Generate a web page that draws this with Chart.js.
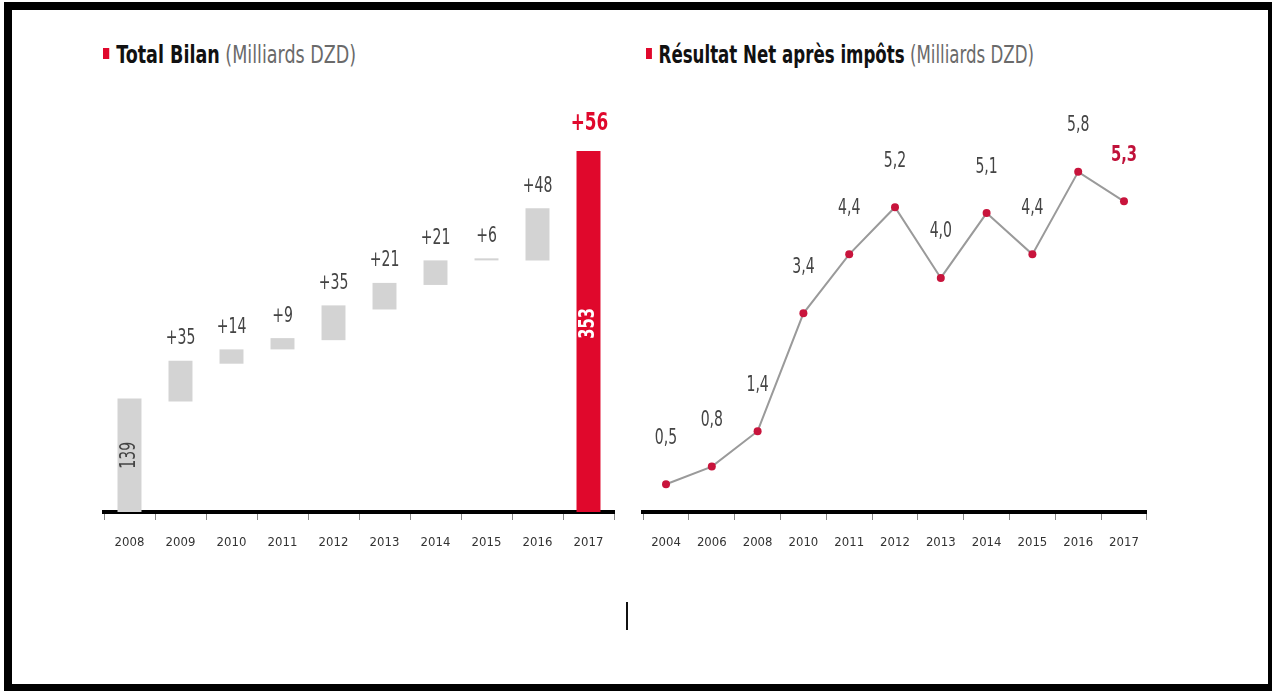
<!DOCTYPE html>
<html>
<head>
<meta charset="utf-8">
<script src="https://cdn.jsdelivr.net/npm/chart.js@4.4.0/dist/chart.umd.min.js"></script>
<style>
  html, body { margin: 0; padding: 0; background: #fff; }
  body { width: 1272px; height: 691px; position: relative; overflow: hidden;
         font-family: 'Liberation Sans Narrow', 'DejaVu Sans Condensed', 'Liberation Sans', sans-serif; }
  .frame { position: absolute; left: 4px; top: 2px; right: 0; bottom: 0; box-sizing: border-box;
           border-style: solid; border-color: #000; border-width: 8px 4px 7px 8px; }
  .title { position: absolute; top: 40px; font-size: 25px; line-height: 30px; white-space: nowrap;
           transform-origin: left center; }
  .title b { color: #111; }
  .title .unit { color: #6a6a6a; }
  .title .sq { display: inline-block; width: 8px; height: 11px; background: #e0082c;
               margin-right: 9px; vertical-align: 4px; }
  .box { position: absolute; }
  .cursor { position: absolute; left: 626px; top: 602px; width: 2px; height: 28px; background: #111; }
</style>
</head>
<body>
<div class="frame"></div>

<div class="title" style="left:103px; transform:scaleX(0.78)"><span class="sq"></span><b>Total Bilan</b> <span class="unit">(Milliards DZD)</span></div>
<div class="title" style="left:646px; transform:scaleX(0.74)"><span class="sq"></span><b>Résultat Net après impôts</b> <span class="unit">(Milliards DZD)</span></div>

<div class="box" style="left:99px; top:90px; width:520px; height:467px"><canvas id="bilan"></canvas></div>
<div class="box" style="left:636px; top:90px; width:518px; height:467px"><canvas id="resultat"></canvas></div>
<div class="cursor"></div>

<script>
// --- Total Bilan (waterfall) ---
const bilanYears = ['2008', '2009', '2010', '2011', '2012', '2013', '2014', '2015', '2016', '2017'];
// floating bars, start / end of each step
const bilanLow  = [0,   108, 145, 159, 168, 198, 222, 246, 246, 0];
const bilanHigh = [111, 148, 159, 170, 202, 224, 246, 248, 297, 353];
const bilanTop    = ['', '+35', '+14', '+9', '+35', '+21', '+21', '+6', '+48', '+56'];
const bilanInside = ['139', '', '', '', '', '', '', '', '', '353'];

// --- Résultat Net après impôts ---
const resYears = ['2004', '2006', '2008', '2010', '2011', '2012', '2013', '2014', '2015', '2016', '2017'];
const resValues = [0.5, 0.8, 1.4, 3.4, 4.4, 5.2, 4.0, 5.1, 4.4, 5.8, 5.3];

const RED = '#e0082c';
const GREY_BAR = '#d3d3d3';
const NARROW = '"Liberation Sans Narrow", "DejaVu Sans Condensed", sans-serif';
const SQUEEZE = 0.78; // narrow look of the original lettering

Chart.defaults.font.family = NARROW;
Chart.defaults.animation = false;

function xAxis() {
  return {
    offset: true,
    border: { display: true, color: '#000', width: 4 },
    grid: { offset: true, drawOnChartArea: false, tickLength: 8, color: '#888', lineWidth: 1 },
    ticks: { color: '#333', font: { size: 13 }, padding: 15, maxRotation: 0, autoSkip: false },
    afterFit: (axis) => { axis.height = 45; }
  };
}

// squeezed text, optionally rotated
function drawText(ctx, text, x, y, font, color, angle) {
  ctx.save();
  ctx.translate(x, y);
  if (angle) ctx.rotate(angle);
  ctx.scale(SQUEEZE, 1.05);
  ctx.textAlign = 'center';
  ctx.textBaseline = 'middle';
  ctx.font = font;
  ctx.fillStyle = color;
  ctx.fillText(text, 0, 0);
  ctx.restore();
}

// labels for the waterfall
const bilanLabels = {
  id: 'bilanLabels',
  afterDatasetsDraw(chart) {
    const ctx = chart.ctx;
    const bars = chart.getDatasetMeta(0).data;
    bars.forEach((bar, i) => {
      const top = Math.min(bar.y, bar.base);
      const bottom = Math.max(bar.y, bar.base);
      const last = i === bars.length - 1;
      if (bilanTop[i]) {
        drawText(ctx, bilanTop[i], bar.x + (last ? 1 : 0), top - (last ? 28 : 22),
          (last ? 'bold 24px ' : '20px ') + NARROW, last ? RED : '#444');
      }
      if (bilanInside[i]) {
        drawText(ctx, bilanInside[i], bar.x, (top + bottom) / 2 - (last ? 8 : 0),
          (last ? 'bold 21px ' : '20px ') + NARROW, last ? '#fff' : '#444', -Math.PI / 2);
      }
    });
  }
};

new Chart(document.getElementById('bilan'), {
  type: 'bar',
  data: {
    labels: bilanYears,
    datasets: [{
      data: bilanLow.map((lo, i) => [lo, bilanHigh[i]]),
      backgroundColor: bilanYears.map((y, i) => i === bilanYears.length - 1 ? RED : GREY_BAR),
      borderWidth: 0,
      barPercentage: 0.47,
      categoryPercentage: 1
    }]
  },
  options: {
    responsive: true,
    maintainAspectRatio: false,
    layout: { padding: { left: 5, right: 5, top: 0, bottom: 0 } },
    plugins: { legend: { display: false }, tooltip: { enabled: false } },
    scales: {
      x: xAxis(),
      y: { display: false, min: 0, max: 412.6 }
    }
  },
  plugins: [bilanLabels]
});

// value labels above the points
const pointLabels = {
  id: 'pointLabels',
  afterDatasetsDraw(chart) {
    const ctx = chart.ctx;
    const pts = chart.getDatasetMeta(0).data;
    pts.forEach((p, i) => {
      const last = i === pts.length - 1;
      drawText(ctx, resValues[i].toFixed(1).replace('.', ','), p.x, p.y - 46,
        (last ? 'bold 21px ' : '20px ') + NARROW, last ? '#c0123a' : '#444');
    });
  }
};

new Chart(document.getElementById('resultat'), {
  type: 'line',
  data: {
    labels: resYears,
    datasets: [{
      data: resValues,
      borderColor: '#9a9a9a',
      borderWidth: 2,
      tension: 0,
      pointRadius: 4,
      pointBackgroundColor: '#c8143c',
      pointBorderWidth: 0
    }]
  },
  options: {
    responsive: true,
    maintainAspectRatio: false,
    layout: { padding: { left: 5, right: 5, top: 0, bottom: 0 } },
    plugins: { legend: { display: false }, tooltip: { enabled: false } },
    scales: {
      x: xAxis(),
      y: { display: false, min: 0.03, max: 7.12 }
    }
  },
  plugins: [pointLabels]
});
</script>
</body>
</html>
